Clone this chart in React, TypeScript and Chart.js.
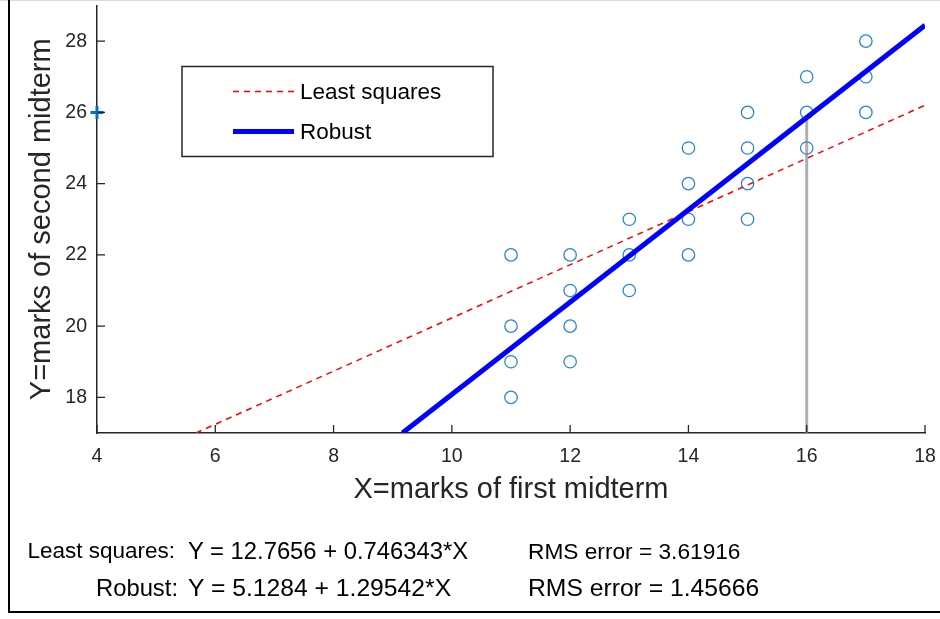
import React, { useEffect, useRef } from "react";
import { Chart, registerables } from "chart.js";

Chart.register(...registerables);

// ---- data ----
const xTicks = [4, 6, 8, 10, 12, 14, 16, 18];
const yTicks = [18, 20, 22, 24, 26, 28];
const xRange = [4, 18];
const yRange = [17, 29];
const scoreX = [11, 11, 11, 11, 12, 12, 12, 12, 13, 13, 13, 14, 14, 14, 14, 15, 15, 15, 15, 16, 16, 16, 17, 17, 17];
const scoreY = [18, 19, 20, 22, 19, 20, 21, 22, 21, 22, 23, 22, 23, 24, 25, 23, 24, 25, 26, 25, 26, 27, 26, 27, 28];
const outlierX = [4];
const outlierY = [26];
const lsCoef = [12.7656, 0.746343];
const robustCoef = [5.1284, 1.29542];
const residualX = [16];
const legendLabels = ["Least squares", "Robust"];
const xTitle = "X=marks of first midterm";
const yTitle = "Y=marks of second midterm";
const summaryNames = ["Least squares:", "Robust:"];
const summaryEquations = ["Y = 12.7656 + 0.746343*X", "Y = 5.1284 + 1.29542*X"];
const summaryRms = ["RMS error = 3.61916", "RMS error = 1.45666"];

const FONT = "'Liberation Sans', Arial, Helvetica, sans-serif";
const AXIS_COLOR = "#262626";
const CANVAS_SHIFT = 4;

function fitLine(coef: number[]) {
  const [a, b] = coef;
  const x0 = Math.max(xRange[0], (yRange[0] - a) / b);
  const x1 = xRange[1];
  return [
    { x: x0, y: a + b * x0 },
    { x: x1, y: a + b * x1 },
  ];
}

function zeroPadding(s: any) {
  s.paddingTop = 0;
  s.paddingBottom = 0;
  s.paddingLeft = 0;
  s.paddingRight = 0;
}

const extrasPlugin = {
  id: "extras",
  afterDraw(chart: any) {
    const { ctx, chartArea, scales } = chart;
    const xs = scales.x;
    const ys = scales.y;
    ctx.save();
    // inward tick marks
    ctx.strokeStyle = AXIS_COLOR;
    ctx.lineWidth = 1.3;
    const tl = 8;
    xTicks.forEach((v) => {
      const px = xs.getPixelForValue(v);
      ctx.beginPath();
      ctx.moveTo(px, chartArea.bottom);
      ctx.lineTo(px, chartArea.bottom - tl);
      ctx.stroke();
    });
    yTicks.forEach((v) => {
      const py = ys.getPixelForValue(v);
      ctx.beginPath();
      ctx.moveTo(chartArea.left, py);
      ctx.lineTo(chartArea.left + tl, py);
      ctx.stroke();
    });

    // legend box
    const bx = chartArea.left + 85;
    const by = chartArea.top + 61;
    const bw = 311;
    const bh = 90;
    ctx.fillStyle = "#ffffff";
    ctx.fillRect(bx, by, bw, bh);
    ctx.strokeStyle = AXIS_COLOR;
    ctx.lineWidth = 1.5;
    ctx.strokeRect(bx, by, bw, bh);
    const rows = [
      { color: "#ff0000", width: 1.5, dash: [6, 5], y: by + 25 },
      { color: "#0000ff", width: 5, dash: [], y: by + 65 },
    ];
    rows.forEach((r, i) => {
      ctx.beginPath();
      ctx.setLineDash(r.dash);
      ctx.strokeStyle = r.color;
      ctx.lineWidth = r.width;
      ctx.moveTo(bx + 51, r.y);
      ctx.lineTo(bx + 112, r.y);
      ctx.stroke();
      ctx.setLineDash([]);
      ctx.fillStyle = "#000000";
      ctx.font = `22.5px ${FONT}`;
      ctx.textBaseline = "middle";
      ctx.textAlign = "left";
      ctx.fillText(legendLabels[i], bx + 118, r.y + 1);
    });
    ctx.restore();
  },
};

export default function App() {
  const canvasRef = useRef<HTMLCanvasElement | null>(null);

  useEffect(() => {
    const canvas = canvasRef.current;
    if (!canvas) return;
    const lsLine = fitLine(lsCoef);
    const robLine = fitLine(robustCoef);
    const residual = residualX.flatMap((x) => [
      { x, y: yRange[0] },
      { x, y: robustCoef[0] + robustCoef[1] * x },
    ]);
    const chart = new Chart(canvas, {
      type: "scatter",
      data: {
        datasets: [
          {
            label: legendLabels[1],
            data: robLine,
            showLine: true,
            borderColor: "#0000ff",
            borderWidth: 5,
            pointRadius: 0,
            order: 0,
          } as any,
          {
            label: legendLabels[0],
            data: lsLine,
            showLine: true,
            borderColor: "#ff0000",
            borderWidth: 1.5,
            borderDash: [6, 5],
            pointRadius: 0,
            order: 1,
          },
          {
            label: "outlier",
            data: outlierX.map((x, i) => ({ x, y: outlierY[i] })),
            pointStyle: "cross",
            pointRadius: 6.5,
            borderColor: "#0072BD",
            borderWidth: 3,
            clip: false,
            order: 2,
          } as any,
          {
            label: "data",
            data: scoreX.map((x, i) => ({ x, y: scoreY[i] })),
            pointStyle: "circle",
            pointRadius: 6.2,
            borderColor: "#2a86cc",
            backgroundColor: "rgba(0,0,0,0)",
            borderWidth: 1.3,
            order: 3,
          },
          {
            label: "residual",
            data: residual,
            showLine: true,
            borderColor: "rgba(165,165,165,0.9)",
            borderWidth: 3,
            pointRadius: 0,
            order: 4,
          },
        ],
      },
      options: {
        animation: false,
        responsive: false,
        maintainAspectRatio: false,
        layout: { padding: { left: 0, top: 1, right: 15, bottom: 0 } },
        plugins: {
          legend: { display: false },
          tooltip: { enabled: false },
          title: { display: false },
        },
        scales: {
          x: {
            type: "linear",
            min: xRange[0],
            max: xRange[1],
            afterBuildTicks: (s: any) => {
              s.ticks = xTicks.map((v) => ({ value: v }));
            },
            afterFit: (s: any) => {
              s.height = 186;
              zeroPadding(s);
            },
            grid: { display: true, drawOnChartArea: false, drawTicks: false },
            border: { display: true, color: AXIS_COLOR, width: 1.5 },
            ticks: {
              padding: 12,
              color: AXIS_COLOR,
              font: { family: FONT, size: 19.5 },
              maxRotation: 0,
              autoSkip: false,
            },
            title: {
              display: true,
              text: xTitle,
              color: AXIS_COLOR,
              font: { family: FONT, size: 29 },
              padding: { top: 0, bottom: 112 },
            },
          },
          y: {
            type: "linear",
            min: yRange[0],
            max: yRange[1],
            afterBuildTicks: (s: any) => {
              s.ticks = yTicks.map((v) => ({ value: v }));
            },
            afterFit: (s: any) => {
              s.width = 97;
              zeroPadding(s);
            },
            grid: { display: true, drawOnChartArea: false, drawTicks: false },
            border: { display: true, color: AXIS_COLOR, width: 1.5 },
            ticks: {
              padding: 10,
              color: AXIS_COLOR,
              font: { family: FONT, size: 19.5 },
              autoSkip: false,
            },
            title: {
              display: true,
              text: yTitle,
              color: AXIS_COLOR,
              font: { family: FONT, size: 29 },
              padding: { top: 25, bottom: 0 },
            },
          },
        },
      } as any,
      plugins: [extrasPlugin],
    });
    return () => chart.destroy();
  }, []);

  const textStyle: React.CSSProperties = {
    position: "absolute",
    fontFamily: FONT,
    lineHeight: "28px",
    color: "#000",
    whiteSpace: "nowrap",
  };
  const rowsY = [537, 574];
  const nameRight = [175, 178];
  const nameSizes = [22.5, 23.8];
  const eqSizes = [23.8, 24.7];
  const rmsSizes = [22.7, 24.7];

  return (
    <div
      style={{
        position: "fixed",
        left: 0,
        top: 0,
        width: 940,
        height: 619,
        background: "#fff",
        overflow: "hidden",
      }}
    >
      <canvas
        ref={canvasRef}
        width={940}
        height={619 + CANVAS_SHIFT}
        style={{ position: "absolute", left: 0, top: -CANVAS_SHIFT, width: 940, height: 619 + CANVAS_SHIFT }}
      />
      <div style={{ position: "absolute", left: 0, top: 0, width: 940, height: 1, background: "#dcdcdc" }} />
      <div style={{ position: "absolute", left: 8, top: 0, width: 2, height: 613, background: "#000" }} />
      <div style={{ position: "absolute", left: 8, top: 611, width: 932, height: 2, background: "#000" }} />
      {summaryNames.map((name, i) => (
        <React.Fragment key={name}>
          <div style={{ ...textStyle, fontSize: nameSizes[i], top: rowsY[i], right: 940 - nameRight[i], textAlign: "right" }}>{name}</div>
          <div style={{ ...textStyle, fontSize: eqSizes[i], top: rowsY[i], left: 188 }}>{summaryEquations[i]}</div>
          <div style={{ ...textStyle, fontSize: rmsSizes[i], top: rowsY[i], left: 528 }}>{summaryRms[i]}</div>
        </React.Fragment>
      ))}
    </div>
  );
}
